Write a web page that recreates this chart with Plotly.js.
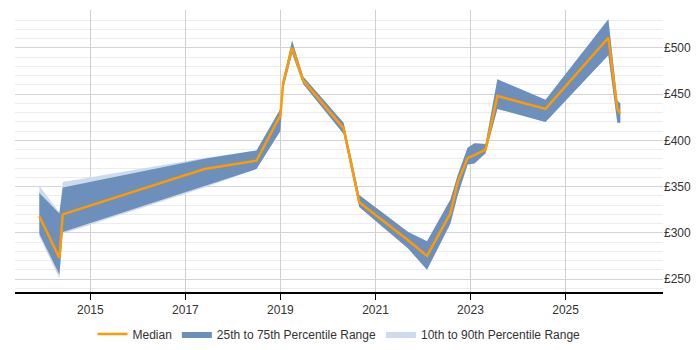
<!DOCTYPE html>
<html>
<head>
<meta charset="utf-8">
<script src="https://cdn.plot.ly/plotly-3.0.1.min.js"></script>
<style>
  html, body { margin: 0; padding: 0; background: #fff; }
  #chart { width: 700px; height: 350px; }
</style>
</head>
<body>
<div id="chart"></div>
<script>
// Sample dates for the rate series
const dates = [
  "2013-12-05", "2014-05-08", "2014-06-03", "2017-05-27", "2018-07-01",
  "2019-01-01", "2019-01-22", "2019-04-01", "2019-06-25", "2020-05-01",
  "2020-08-29", "2021-09-09", "2022-02-01", "2022-07-31", "2022-09-24",
  "2022-12-10", "2023-02-01", "2023-04-27", "2023-07-27", "2024-07-31",
  "2025-11-26", "2026-02-03", "2026-02-26"
];

// Median daily rate (GBP)
const median = [318, 273, 320, 369, 378, 427, 462, 500, 465, 413, 333, 292, 275, 321, 354, 381, 384, 390, 448, 434, 511, 434, 429];

// 25th and 75th percentiles
const p25 = [299, 255, 301, 351, 369, 410, 455, 494, 461, 407, 328, 283, 260, 310, 340, 374, 375, 386, 434, 420, 492, 419, 419];
const p75 = [343, 321, 349, 380, 389, 434, 466, 508, 469, 419, 341, 301, 291, 336, 362, 392, 397, 396, 466, 444, 531, 443, 440];

// 10th and 90th percentiles
const p10 = [296, 251, 299, 349, 369, 410, 455, 494, 461, 407, 328, 283, 260, 310, 340, 374, 375, 386, 434, 420, 492, 419, 419];
const p90 = [351, 322, 355, 381, 389, 434, 466, 508, 469, 419, 341, 301, 291, 336, 362, 392, 397, 396, 466, 444, 531, 443, 440];

// Axis ticks
const yTickVals = [250, 300, 350, 400, 450, 500];
const yTickText = ["£250", "£300", "£350", "£400", "£450", "£500"];
const xTickVals = ["2015-01-01", "2017-01-01", "2019-01-01", "2021-01-01", "2023-01-01", "2025-01-01"];
const xTickText = ["2015", "2017", "2019", "2021", "2023", "2025"];

const lightFill = "rgba(205,219,234,1)";
const darkFill = "rgba(108,143,187,1)";
const medianColor = "#ff9a00";

const traces = [
  { x: dates, y: p10, mode: "lines", line: { width: 0 }, showlegend: false, hoverinfo: "skip" },
  { x: dates, y: p90, mode: "lines", line: { width: 0 }, fill: "tonexty", fillcolor: lightFill,
    name: "10th to 90th Percentile Range", legendrank: 3 },
  { x: dates, y: p25, mode: "lines", line: { width: 0 }, showlegend: false, hoverinfo: "skip" },
  { x: dates, y: p75, mode: "lines", line: { width: 0 }, fill: "tonexty", fillcolor: darkFill,
    name: "25th to 75th Percentile Range", legendrank: 2 },
  { x: dates, y: median, mode: "lines", line: { color: medianColor, width: 2.5 },
    name: "Median", legendrank: 1 }
];

const layout = {
  width: 700, height: 350,
  margin: { l: 15, r: 37, t: 10, b: 58 },
  paper_bgcolor: "#fff", plot_bgcolor: "#fff",
  font: { family: "Liberation Sans, Arial, sans-serif", size: 12, color: "#333" },
  showlegend: true,
  legend: {
    orientation: "h", x: 0.5, xanchor: "center",
    yref: "container", y: 0.046, yanchor: "middle",
    font: { size: 12, color: "#333" }, itemwidth: 30, traceorder: "normal"
  },
  xaxis: {
    type: "date",
    range: ["2013-06-01", "2027-01-20"],
    tickvals: xTickVals, ticktext: xTickText,
    showgrid: true, gridcolor: "#d0d0d0", gridwidth: 1,
    showline: true, linecolor: "#000", linewidth: 1.5,
    ticks: "outside", ticklen: 6, tickcolor: "#000",
    zeroline: false, fixedrange: true,
    tickfont: { size: 12, color: "#333" }
  },
  yaxis: {
    side: "right",
    range: [236, 541],
    tickvals: yTickVals, ticktext: yTickText,
    showgrid: true, gridcolor: "#d4d4d4", gridwidth: 1,
    minor: { dtick: 10, tick0: 0, showgrid: true, gridcolor: "#ececec", gridwidth: 1 },
    showline: false, zeroline: false, ticks: "", fixedrange: true,
    tickfont: { size: 12, color: "#333" }
  }
};

Plotly.newPlot("chart", traces, layout, { displayModeBar: false, staticPlot: true });
</script>
</body>
</html>
